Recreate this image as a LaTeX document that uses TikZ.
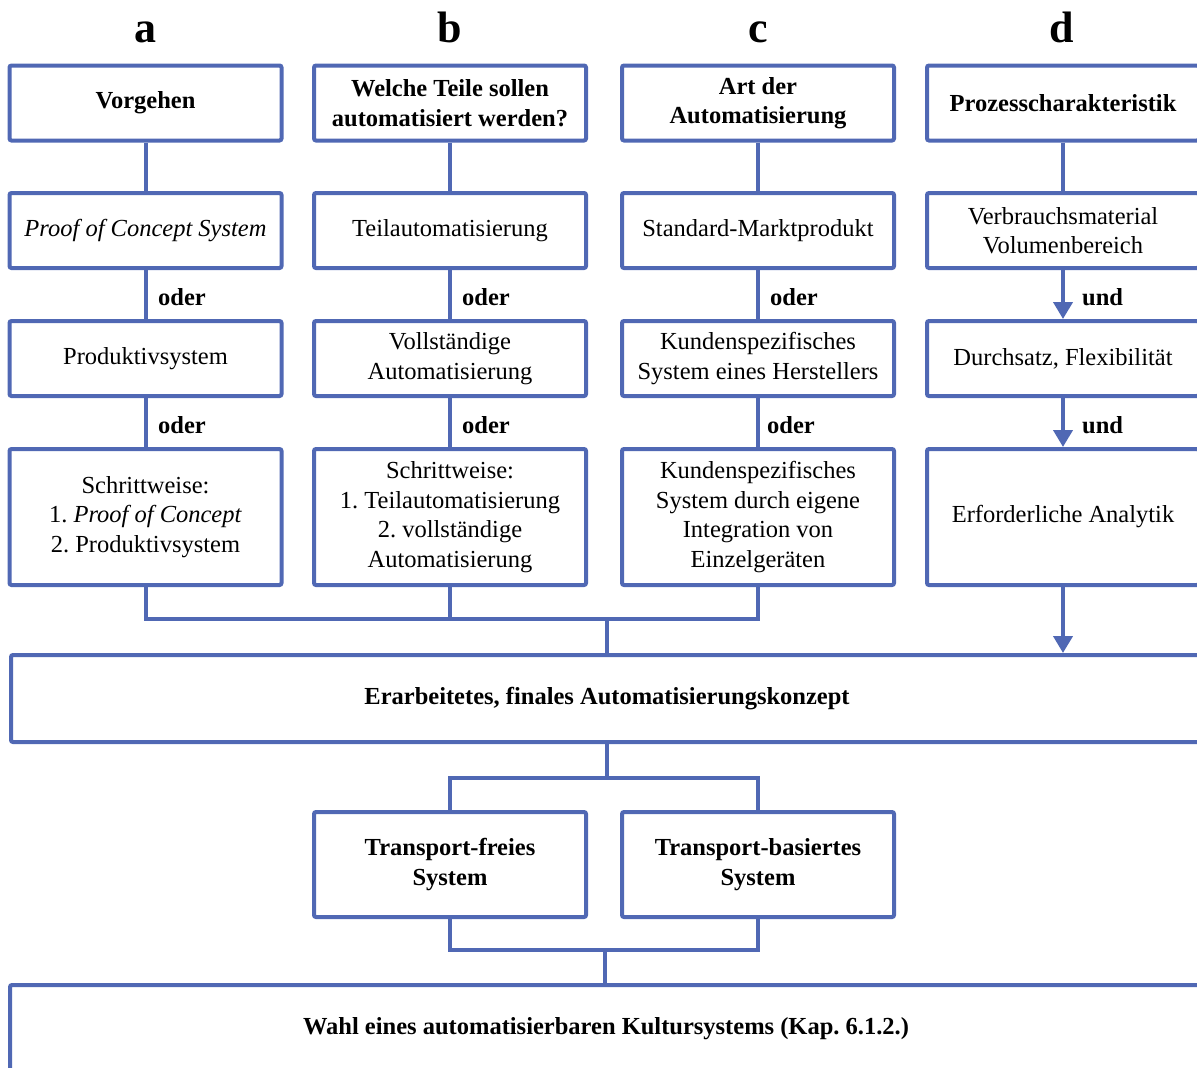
\documentclass[tikz,border=0pt]{standalone}
\usepackage{fontspec}
\setmainfont{Liberation Serif}
\usetikzlibrary{arrows.meta}
\definecolor{frame}{RGB}{80,104,180}
\newcommand\boxfont{\fontsize{24.5}{29.5}\selectfont}
\newcommand\letterfont{\fontsize{44}{50}\selectfont\bfseries}
\frenchspacing
\begin{document}
\begin{tikzpicture}[x=1pt,y=-1pt,
  box/.style={draw=frame, line width=4pt, rounded corners=2pt, fill=white,
    minimum width=272pt, minimum height=75pt, align=center, inner sep=0pt,
    font=\boxfont},
  head/.style={box, font=\boxfont\bfseries},
  tall/.style={box, minimum height=136pt},
  wide/.style={box, font=\boxfont\bfseries, minimum width=1192pt, minimum height=87pt},
  trans/.style={box, font=\boxfont\bfseries, minimum height=105pt},
  link/.style={draw=frame, line width=4pt},
  arr/.style={link, -{Triangle[width=19pt,length=17pt]}},
  conj/.style={anchor=west, inner sep=0pt, font=\boxfont\bfseries},
  letter/.style={anchor=base, inner sep=0pt, font=\letterfont}]
\useasboundingbox (0,0) rectangle (1197,1068);
\clip (0,0) rectangle (1197,1068);

% column letters
\node[letter] (la) at (145.5,42) {a};
\node[letter] (lb) at (450,42) {b};
\node[letter] (lc) at (758,42) {c};
\node[letter] (ld) at (1062,42) {d};

% column a
\node[head] (a1) at (145.5,103) {Vorgehen};
\node[box]  (a2) at (145.5,230.5) {\itshape Proof of Concept System};
\node[box]  (a3) at (145.5,358.5) {Produktivsystem};
\node[tall] (a4) at (145.5,517) {Schrittweise:\\1. \textit{Proof of Concept}\\2. Produktivsystem};

% column b
\node[head] (b1) at (450,103) {Welche Teile sollen\\automatisiert werden?};
\node[box]  (b2) at (450,230.5) {Teilautomatisierung};
\node[box]  (b3) at (450,358.5) {Vollständige\\Automatisierung};
\node[tall] (b4) at (450,517) {Schrittweise:\\1. Teilautomatisierung\\2. vollständige\\Automatisierung};

% column c
\node[head] (c1) at (758,103) {Art der\\Automatisierung};
\node[box]  (c2) at (758,230.5) {Standard-Marktprodukt};
\node[box]  (c3) at (758,358.5) {Kundenspezifisches\\System eines Herstellers};
\node[tall] (c4) at (758,517) {Kundenspezifisches\\System durch eigene\\Integration von\\Einzelgeräten};

% column d
\node[head] (d1) at (1063,103) {Prozesscharakteristik};
\node[box]  (d2) at (1063,230.5) {Verbrauchsmaterial\\Volumenbereich};
\node[box]  (d3) at (1063,358.5) {Durchsatz, Flexibilität};
\node[tall] (d4) at (1063,517) {Erforderliche Analytik};

% concept and system choice
\node[wide]  (fin) at (607,698.5) {Erarbeitetes, finales Automatisierungskonzept};
\node[trans] (tf)  at (450,864.5) {Transport-freies\\System};
\node[trans] (tb)  at (758,864.5) {Transport-basiertes\\System};
\node[wide]  (kul) at (606,1028.5) {Wahl eines automatisierbaren Kultursystems (Kap. 6.1.2.)};

% junction points
\coordinate (j1) at (607,619);
\coordinate (j2) at (607,778);
\coordinate (j3) at (605,950);

% columns a-c
\foreach \c in {a,b,c} {
  \draw[link] (\c1) -- (\c2);
  \draw[link] (\c2) -- (\c3);
  \draw[link] (\c3) -- (\c4);
  \draw[link] (\c4.south) |- (j1);
}
\draw[link] (j1) -- (fin.north -| j1);

% column d
\draw[link] (d1) -- (d2);
\draw[arr] (d2) -- (d3);
\draw[arr] (d3) -- (d4);
\draw[arr] (d4.south) -- (d4.south |- fin.north);

% lower part
\draw[link] (fin.south -| j2) -- (j2);
\draw[link] (tf.north) |- (j2);
\draw[link] (tb.north) |- (j2);
\draw[link] (tf.south) |- (j3);
\draw[link] (tb.south) |- (j3);
\draw[link] (j3) -- (kul.north -| j3);

% connector labels
\node[conj] (oa1) at (158,297) {oder};
\node[conj] (oa2) at (158,425) {oder};
\node[conj] (ob1) at (462,297) {oder};
\node[conj] (ob2) at (462,425) {oder};
\node[conj] (oc1) at (770,297) {oder};
\node[conj] (oc2) at (767,425) {oder};
\node[conj] (ud1) at (1082,297) {und};
\node[conj] (ud2) at (1082,425) {und};
\end{tikzpicture}
\end{document}
